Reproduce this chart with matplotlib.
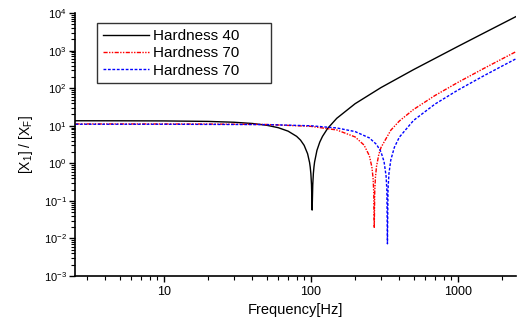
import matplotlib
matplotlib.use("Agg")
import matplotlib.pyplot as plt
from matplotlib.ticker import LogLocator, FixedLocator, NullFormatter

plt.rcParams['font.family'] = ['Liberation Sans', 'DejaVu Sans']
plt.rcParams['axes.unicode_minus'] = False
plt.rcParams['mathtext.fontset'] = 'custom'
plt.rcParams['mathtext.rm'] = 'Liberation Sans'
plt.rcParams['mathtext.it'] = 'Liberation Sans'

# values (Hz, ratio)
f_40 = [2.5, 5, 10, 20, 30, 40, 50, 60, 70, 80, 85, 90, 95, 98, 99, 100, 101, 102,
        103, 104, 105, 106, 110, 115, 120, 130, 150, 200, 300, 500, 1000, 1500, 2000, 2500]
x_40 = [13.6, 13.57, 13.47, 13.08, 12.42, 11.51, 10.33, 8.89, 7.19, 5.23, 4.16, 3.01, 1.80,
        1.05, 0.79, 0.53, 0.27, 0.057, 0.27, 0.54, 0.81, 1.09, 2.22, 3.69, 5.22, 8.49, 15.8,
        38.7, 104, 313, 1293, 2928, 5215, 8156]

f_70a = [2.5, 10, 20, 50, 100, 150, 200, 230, 250, 260, 265, 268, 270, 272, 275, 280,
         290, 300, 350, 400, 500, 700, 1000, 1500, 2000, 2500]
x_70a = [11.2, 11.18, 11.14, 10.82, 9.66, 7.74, 5.05, 3.07, 1.60, 0.81, 0.41, 0.165, 0.019,
         0.167, 0.419, 0.845, 1.72, 2.63, 7.62, 13.38, 27.2, 64.1, 142.4, 334.5, 603, 949]

f_70b = [2.5, 10, 50, 100, 150, 200, 250, 280, 300, 315, 325, 329, 332, 335, 340, 350,
         370, 400, 500, 700, 1000, 1500, 2000, 2500]
x_70b = [11.0, 10.99, 10.75, 10.0, 8.75, 7.01, 4.76, 3.18, 2.02, 1.10, 0.46, 0.198, 0.0072,
         0.199, 0.537, 1.23, 2.66, 4.97, 13.9, 37.9, 88.8, 213.5, 388, 613]

labels = ['Hardness 40', 'Hardness 70', 'Hardness 70']

fig = plt.figure(figsize=(5.23, 3.2), dpi=100)
ax = fig.add_axes([0.1434, 0.1375, 0.8432, 0.8215])

ax.plot(f_40, x_40, color='black', lw=1.0, label=labels[0])
ax.plot(f_70a, x_70a, color='red', lw=1.0, ls=(0, (3, 1, 1, 1, 1, 1)), label=labels[1])
ax.plot(f_70b, x_70b, color='blue', lw=1.0, ls=(0, (2, 1.2)), label=labels[2])

ax.set_xscale('log')
ax.set_yscale('log')
ax.set_xlim(2.48, 2490)
ax.set_ylim(1e-3, 1e4)

ax.spines['top'].set_visible(False)
ax.spines['right'].set_visible(False)
ax.spines['left'].set_linewidth(1.2)
ax.spines['bottom'].set_linewidth(1.2)

ax.xaxis.set_major_locator(FixedLocator([10, 100, 1000]))
ax.set_xticklabels(['10', '100', '1000'])
ax.xaxis.set_minor_locator(LogLocator(base=10, subs=range(2, 10), numticks=20))
ax.xaxis.set_minor_formatter(NullFormatter())
ax.yaxis.set_major_locator(LogLocator(base=10, numticks=20))
ax.yaxis.set_minor_locator(LogLocator(base=10, subs=range(2, 10), numticks=20))
ax.yaxis.set_minor_formatter(NullFormatter())

ax.tick_params(which='major', direction='out', length=4.5, width=1, labelsize=8)
ax.tick_params(axis='x', which='major', pad=3, labelsize=9)
ax.tick_params(axis='y', which='major', pad=1.5)
ax.tick_params(which='minor', direction='out', length=2.7, width=0.8)

ax.set_xlabel('Frequency[Hz]', fontsize=10.5, labelpad=3)
ax.set_ylabel(r'[X$_1$] / [X$_F$]', fontsize=10, labelpad=6)

leg = ax.legend(loc='upper left', bbox_to_anchor=(0.05, 0.962, 0.395, 0), mode='expand',
                fontsize=11, handlelength=3.0, handletextpad=0.3, borderpad=0.38,
                labelspacing=0.22, borderaxespad=0, frameon=True, fancybox=False,
                edgecolor='black')
leg.get_frame().set_linewidth(1.0)

fig.savefig('out.png', dpi=100)
